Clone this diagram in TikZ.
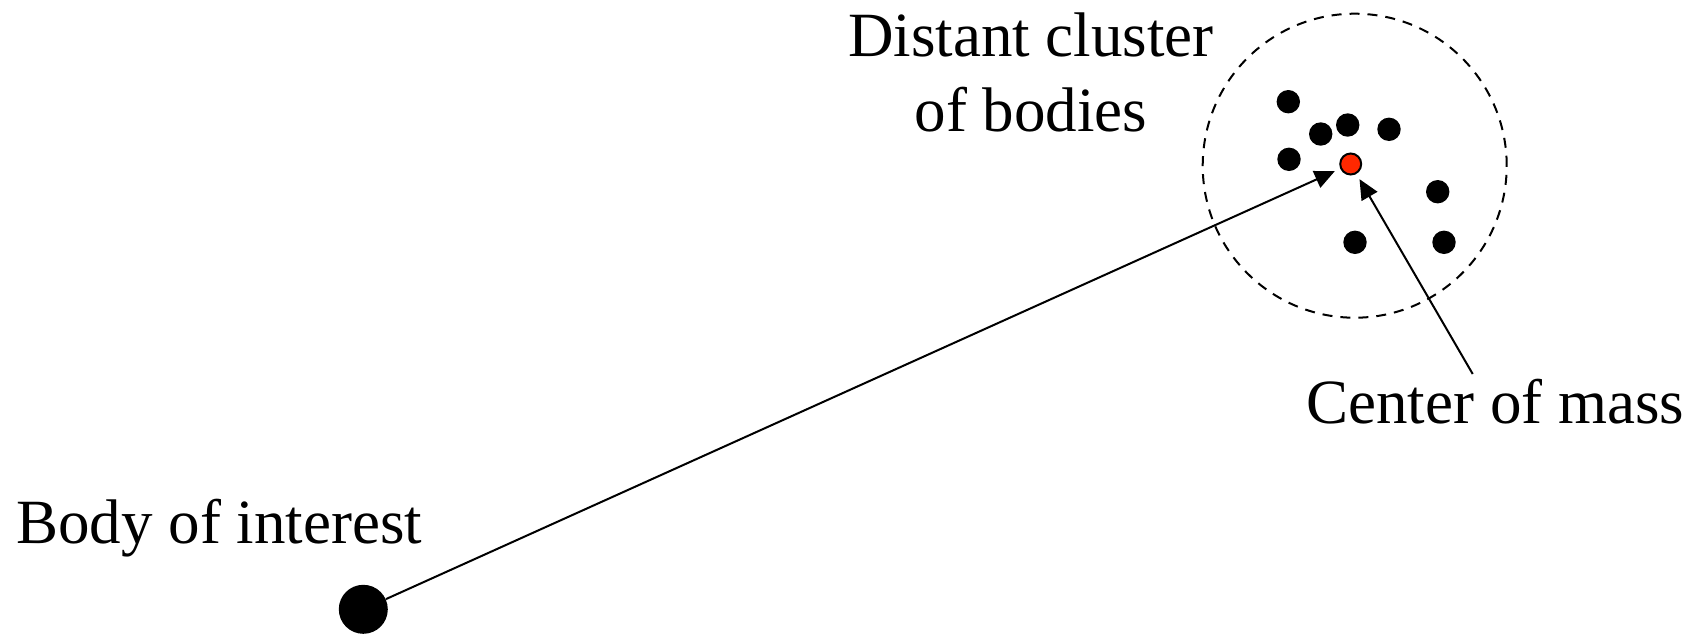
\documentclass[tikz,border=0pt]{standalone}
\usepackage{fontspec}
\setmainfont{Liberation Serif}
\usetikzlibrary{arrows.meta}
\definecolor{comred}{RGB}{255,40,0}
\begin{document}
\begin{tikzpicture}[x=0.5pt,y=-0.5pt,
  lbl/.style={inner sep=0pt,font=\fontsize{31.5}{37.75}\selectfont},
  body/.style={circle,fill=black,inner sep=0pt,minimum size=11.7pt},
  big/.style={circle,fill=black,inner sep=0pt,minimum size=24.5pt},
  com/.style={circle,fill=comred,draw=black,line width=1pt,inner sep=0pt,minimum size=10.5pt},
  arr/.style={line width=1pt,-{Triangle[length=10pt,width=9pt]}}]
\useasboundingbox (0,0) rectangle (1706,633);
% cluster boundary
\node[circle,draw,dashed,dash pattern=on 5pt off 4pt,line width=1pt,inner sep=0pt,minimum size=152pt] (cluster) at (1354.7,165.7) {};
% bodies
\node[body] (b1) at (1288.3,101.7) {};
\node[body] (b2) at (1320.7,134) {};
\node[body] (b3) at (1347.7,125) {};
\node[body] (b4) at (1389,129.3) {};
\node[body] (b5) at (1289,159.3) {};
\node[body] (b6) at (1437.7,191.7) {};
\node[body] (b7) at (1355,242.3) {};
\node[body] (b8) at (1444,242.3) {};
\node[com] (cm) at (1350.7,164) {};
\node[big] (boi) at (363.3,609.3) {};
% labels
\node[lbl,anchor=base,align=center] (clusterlbl) at (1031,131.5) {Distant cluster\\of bodies};
\node[lbl,anchor=base west] (cmlbl) at (1306,423) {Center of mass};
\node[lbl,anchor=base west] (boilbl) at (16,543) {Body of interest};
\coordinate (cmstart) at (1472.7,374);
% arrows
\draw[arr,shorten >=3pt] (boi) -- (cm);
\draw[arr,shorten >=3pt] (cmstart) -- (cm);
\end{tikzpicture}
\end{document}
